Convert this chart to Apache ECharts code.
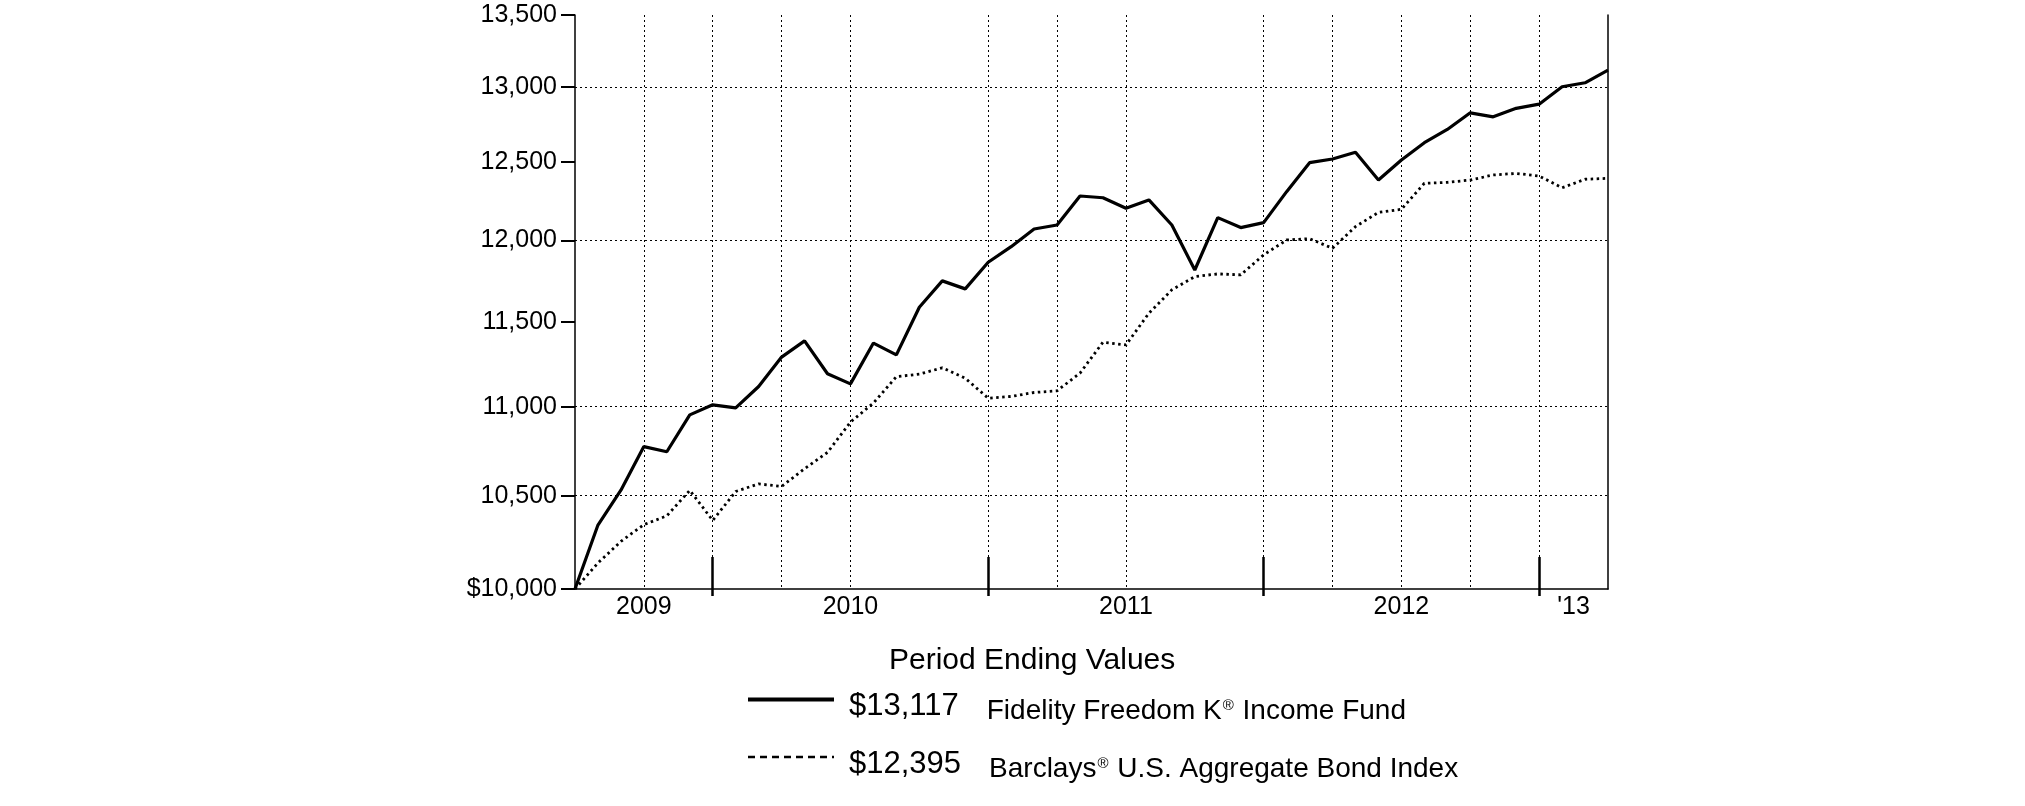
<!DOCTYPE html>
<html>
<head>
<meta charset="utf-8">
<script src="https://cdn.jsdelivr.net/npm/echarts@6/dist/echarts.min.js"></script>
<style>
html,body{margin:0;padding:0;background:#fff;}
#chart{width:2025px;height:806px;}
</style>
</head>
<body>
<div id="chart"></div>
<script>
// ---- data ----
const fundName = 'Fidelity Freedom K® Income Fund';
const indexName = 'Barclays® U.S. Aggregate Bond Index';
const fundEnding = '$13,117';
const indexEnding = '$12,395';
// month-end values, Jul 2009 start (index 0) through Mar 2013 (index 45)
const fundValues = [10000, 10340, 10530, 10773, 10744, 10953, 11011, 10993, 11117, 11289,
  11385, 11191, 11132, 11372, 11302, 11587, 11748, 11699, 11863, 11960,
  12071, 12096, 12281, 12270, 12203, 12256, 12096, 11815, 12143, 12080,
  12111, 12309, 12497, 12521, 12565, 12384, 12514, 12628, 12716, 12827,
  12800, 12857, 12885, 13003, 13030, 13117];
const indexValues = [10000, 10137, 10252, 10342, 10390, 10529, 10365, 10523, 10565, 10551,
  10649, 10740, 10912, 11021, 11174, 11189, 11226, 11165, 11049, 11059,
  11082, 11092, 11195, 11377, 11361, 11551, 11693, 11774, 11791, 11785,
  11909, 12002, 12010, 11950, 12086, 12176, 12196, 12363, 12369, 12384,
  12417, 12427, 12410, 12334, 12389, 12395];
const yTickValues = [10000, 10500, 11000, 11500, 12000, 12500, 13000, 13500];
const yGridValues = [10500, 11000, 12000, 13000];
const xLabelPositions = [3, 12, 24, 36, 43.5];
const xLabelTexts = ['2009', '2010', '2011', '2012', "'13"];
const yearEndMonths = [6, 18, 30, 42];
const gridMonths = [3, 6, 9, 12, 18, 21, 24, 30, 33, 36, 39, 42];

// ---- chart ----
const FONT = '"Liberation Sans", Arial, Helvetica, sans-serif';
const chart = echarts.init(document.getElementById('chart'), null, {renderer: 'canvas'});

function fmtY(v) {
  const s = Math.round(v).toLocaleString('en-US');
  return Math.round(v) === 10000 ? '$' + s : s;
}

const option = {
  animation: false,
  backgroundColor: '#fff',
  title: {
    text: 'Period Ending Values',
    left: 884,
    top: 641,
    textStyle: {fontFamily: FONT, fontSize: 30, fontWeight: 'normal', color: '#000'}
  },
  legend: {
    orient: 'vertical',
    left: 741,
    top: 686,
    itemWidth: 86,
    itemHeight: 20,
    itemGap: 23,
    itemStyle: {color: 'rgba(0,0,0,0)', borderWidth: 0, opacity: 0},
    data: [
      {name: fundName, lineStyle: {width: 4, type: 'solid'}},
      {name: indexName, lineStyle: {type: [7, 5], width: 2.5}}
    ],
    formatter: function (name) {
      if (name === fundName) {
        return '{v|' + fundEnding + '}{n|Fidelity Freedom K}{s|®}{n| Income Fund}';
      }
      return '{v|' + indexEnding + '}{n|Barclays}{s|®}{n| U.S. Aggregate Bond Index}';
    },
    textStyle: {
      fontFamily: FONT,
      color: '#000',
      padding: [14, 0, 0, 0],
      rich: {
        v: {fontFamily: FONT, fontSize: 31, color: '#000', padding: [0, 28, 0, 10], lineHeight: 38},
        n: {fontFamily: FONT, fontSize: 28, color: '#000', lineHeight: 38, verticalAlign: 'bottom', padding: [4, 0, 0, 0]},
        s: {fontFamily: FONT, fontSize: 15, color: '#000', lineHeight: 15, verticalAlign: 'bottom', padding: [0, 1, 12, 1]}
      }
    }
  },
  grid: {left: 575, right: 417, top: 15, bottom: 217, containLabel: false},
  xAxis: [
    {
      type: 'value', min: 0, max: 45, position: 'bottom',
      axisLine: {show: true, onZero: false, lineStyle: {color: '#000', width: 1.5}},
      axisTick: {show: true, inside: true, length: 32, customValues: yearEndMonths,
        lineStyle: {color: '#000', width: 2.5}},
      axisLabel: {
        show: true, customValues: xLabelPositions, margin: 6,
        formatter: function (v) { return xLabelTexts[xLabelPositions.indexOf(v)]; },
        fontFamily: FONT, fontSize: 25, color: '#000'
      },
      splitLine: {show: false}
    },
    {
      type: 'value', min: 0, max: 45, position: 'bottom',
      axisLine: {show: false, onZero: false},
      axisTick: {show: true, inside: false, length: 7, customValues: yearEndMonths,
        lineStyle: {color: '#000', width: 2.5}},
      axisLabel: {show: false},
      splitLine: {show: false}
    },
    {
      type: 'value', min: 0, max: 45, position: 'top',
      axisLine: {show: false, onZero: false},
      axisTick: {show: false, customValues: gridMonths},
      axisLabel: {show: false},
      splitLine: {show: true, lineStyle: {color: '#000', width: 1, type: [2, 3]}}
    }
  ],
  yAxis: [
    {
      type: 'log', logBase: 10, min: 10000, max: 13500, position: 'left',
      axisLine: {show: true, onZero: false, lineStyle: {color: '#000', width: 1.5}},
      axisTick: {show: true, length: 14, customValues: yTickValues,
        lineStyle: {color: '#000', width: 2}},
      axisLabel: {show: true, customValues: yTickValues, formatter: fmtY, margin: 18,
        fontFamily: FONT, fontSize: 25, color: '#000'},
      splitLine: {show: false}
    },
    {
      type: 'log', logBase: 10, min: 10000, max: 13500, position: 'right',
      axisLine: {show: true, onZero: false, lineStyle: {color: '#000', width: 1.5}},
      axisTick: {show: false, customValues: yGridValues},
      axisLabel: {show: false},
      splitLine: {show: true, lineStyle: {color: '#000', width: 1, type: [2, 3]}}
    }
  ],
  series: [
    {
      name: fundName, type: 'line', xAxisIndex: 0, yAxisIndex: 0,
      data: fundValues.map(function (v, i) { return [i, v]; }),
      symbol: 'none', z: 4,
      itemStyle: {color: '#000'},
      lineStyle: {color: '#000', width: 3.2}
    },
    {
      name: indexName, type: 'line', xAxisIndex: 0, yAxisIndex: 0,
      data: indexValues.map(function (v, i) { return [i, v]; }),
      symbol: 'none', z: 3,
      itemStyle: {color: '#000'},
      lineStyle: {color: '#000', width: 2.8, type: [2.5, 3.5]}
    }
  ]
};
chart.setOption(option);
</script>
</body>
</html>
